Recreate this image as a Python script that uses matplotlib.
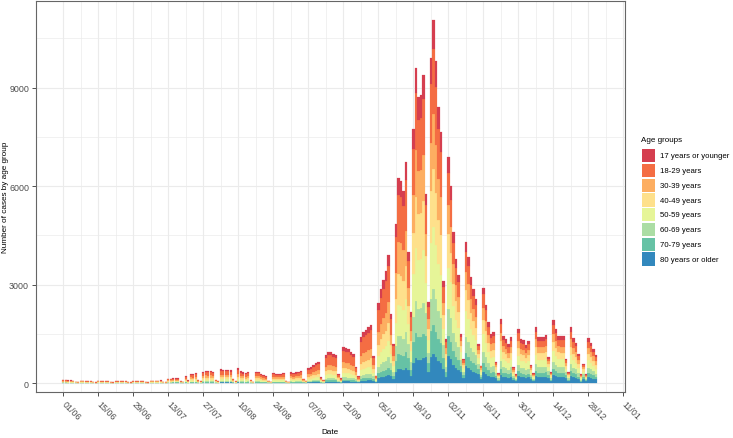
import datetime as dt
import numpy as np
import matplotlib
matplotlib.use('Agg')
import matplotlib.pyplot as plt
import matplotlib.dates as mdates
from matplotlib.patches import Rectangle

plt.rcParams['font.family'] = ['Liberation Sans', 'DejaVu Sans']

start = dt.date(2020, 6, 1)

# daily totals, one row per week (Mon..Sun)
week_totals = [
    [90, 85, 80, 80, 75, 35, 25],            # 01/06
    [75, 70, 65, 60, 60, 30, 20],            # 08/06
    [70, 65, 60, 55, 55, 25, 20],            # 15/06
    [65, 60, 60, 55, 55, 25, 20],            # 22/06
    [65, 60, 60, 55, 55, 25, 20],            # 29/06
    [70, 70, 75, 75, 80, 30, 25],            # 06/07
    [120, 130, 140, 145, 150, 60, 40],       # 13/07
    [220, 80, 275, 265, 300, 90, 60],        # 20/07
    [345, 375, 365, 375, 345, 100, 60],      # 27/07
    [420, 410, 405, 400, 390, 120, 60],      # 03/08
    [447, 355, 325, 305, 345, 100, 40],      # 10/08
    [345, 345, 275, 245, 200, 70, 40],       # 17/08
    [305, 280, 280, 280, 305, 70, 40],       # 24/08
    [325, 305, 325, 345, 375, 120, 70],      # 31/08
    [447, 475, 548, 600, 650, 170, 100],     # 07/09
    [850, 935, 955, 885, 850, 275, 140],     # 14/09
    [1085, 1055, 1035, 955, 885, 500, 200],  # 21/09
    [1400, 1550, 1620, 1700, 1780, 830, 220],   # 28/09
    [2450, 2850, 3150, 3400, 3900, 2100, 1200], # 05/10
    [4840, 6240, 6160, 5850, 6720, 3980, 2150], # 12/10
    [7740, 9590, 8710, 8760, 9390, 5760, 2460], # 19/10
    [9890, 11070, 9800, 8400, 7640, 3100, 1340],# 26/10
    [6870, 6010, 4590, 3775, 3300, 1490, 730],  # 02/11
    [4290, 3830, 3220, 2860, 2560, 1190, 530],  # 09/11
    [2900, 2380, 1850, 1490, 1540, 630, 300],   # 16/11
    [1960, 1440, 1340, 1190, 1390, 480, 275],   # 23/11
    [1640, 1340, 1300, 1170, 1290, 540, 290],   # 30/11
    [1700, 1400, 1400, 1400, 1460, 790, 330],   # 07/12
    [1920, 1640, 1430, 1420, 1420, 730, 330],   # 14/12
    [1700, 1360, 1220, 880, 275, 580, 275],     # 21/12
    [1370, 1220, 1040, 850],                    # 28/12
]

age_groups = ['17 years or younger', '18-29 years', '30-39 years', '40-49 years',
              '50-59 years', '60-69 years', '70-79 years', '80 years or older']
colors = ['#D53E4F', '#F46D43', '#FDAE61', '#FEE08B',
          '#E6F598', '#ABDDA4', '#66C2A5', '#3288BD']

# age mix per period (same order as age_groups)
shares_weekday = [
    [0.10, 0.24, 0.17, 0.16, 0.14, 0.08, 0.05, 0.06],
    [0.11, 0.28, 0.18, 0.15, 0.13, 0.07, 0.04, 0.04],
    [0.10, 0.31, 0.17, 0.14, 0.12, 0.07, 0.045, 0.045],
    [0.09, 0.28, 0.16, 0.14, 0.13, 0.08, 0.06, 0.06],
    [0.08, 0.23, 0.16, 0.15, 0.15, 0.09, 0.07, 0.07],
    [0.08, 0.18, 0.15, 0.16, 0.17, 0.10, 0.08, 0.08],
    [0.07, 0.14, 0.13, 0.15, 0.18, 0.12, 0.09, 0.12],
    [0.08, 0.14, 0.13, 0.14, 0.17, 0.12, 0.09, 0.13],
]
shares_weekend = [
    [0.08, 0.20, 0.14, 0.14, 0.14, 0.10, 0.08, 0.12],
    [0.09, 0.25, 0.16, 0.14, 0.13, 0.09, 0.06, 0.08],
    [0.08, 0.27, 0.15, 0.13, 0.13, 0.09, 0.07, 0.08],
    [0.07, 0.24, 0.14, 0.13, 0.13, 0.10, 0.09, 0.10],
    [0.07, 0.20, 0.14, 0.14, 0.15, 0.11, 0.09, 0.10],
    [0.06, 0.15, 0.12, 0.14, 0.16, 0.12, 0.11, 0.14],
    [0.05, 0.10, 0.10, 0.12, 0.15, 0.13, 0.13, 0.22],
    [0.06, 0.11, 0.11, 0.12, 0.15, 0.13, 0.12, 0.20],
]
week_phase = [0, 0, 0, 0, 0, 0, 0, 1, 1, 1, 1, 1, 1, 1, 2, 2, 2, 2, 3, 4,
              5, 5, 6, 6, 6, 7, 7, 7, 7, 7, 7]

# build per-day counts by age group
dates, counts = [], []
for w, row in enumerate(week_totals):
    for k, tot in enumerate(row):
        sh = shares_weekend[week_phase[w]] if k >= 5 else shares_weekday[week_phase[w]]
        sh = np.array(sh) / np.sum(sh)
        dates.append(start + dt.timedelta(days=7 * w + k))
        counts.append(tot * sh)
counts = np.array(counts)
x = mdates.date2num(dates)

W, H = 733, 439
fig = plt.figure(figsize=(W / 100, H / 100), dpi=100)
ax = fig.add_axes([36 / W, 1 - 393 / H, (625 - 36) / W, (393 - 2) / H])

bottom = np.zeros(len(x))
for i in range(len(age_groups) - 1, -1, -1):
    ax.bar(x, counts[:, i], width=1.0, bottom=bottom, color=colors[i],
           edgecolor=colors[i], linewidth=0.15, zorder=2)
    bottom += counts[:, i]

x0 = mdates.date2num(start)
ax.set_xlim(x0 - 10.9, x0 + 224.7)
ax.set_ylim(-274, 11636)

ticks = [x0 + 14 * i for i in range(17)]
ax.set_xticks(ticks)
ax.set_xticklabels([mdates.num2date(t).strftime('%d/%m') for t in ticks],
                   rotation=-45, ha='left', va='center', rotation_mode='anchor',
                   fontsize=6.4, color='#4D4D4D')
ax.set_xticks([x0 + 7 + 14 * i for i in range(16)], minor=True)
ax.set_yticks([0, 3000, 6000, 9000])
ax.set_yticklabels(['0', '3000', '6000', '9000'], fontsize=6.4, color='#4D4D4D')
ax.set_yticks([1500, 4500, 7500, 10500], minor=True)

ax.grid(which='major', color='#EBEBEB', linewidth=0.8, zorder=0)
ax.grid(which='minor', color='#EBEBEB', linewidth=0.5, zorder=0)
ax.set_axisbelow(True)
ax.tick_params(which='major', length=3, width=0.6, color='#333333', pad=2)
ax.tick_params(which='minor', length=0)
ax.tick_params(axis='x', pad=4.5)
for s in ax.spines.values():
    s.set_color('#666666')
    s.set_linewidth(0.8)

ax.set_xlabel('Date', fontsize=5.9)
ax.set_ylabel('Number of cases by age group', fontsize=5.9)
ax.xaxis.set_label_coords((330 - 36) / (625 - 36), -(429 - 393) / (393 - 2))
ax.yaxis.set_label_coords(-(36 - 9.3) / (625 - 36), 0.5)

# legend drawn at fixed positions
fig.text(641 / W, 1 - 141 / H, 'Age groups', fontsize=5.8, ha='left', va='center')
for i, (lab, c) in enumerate(zip(age_groups, colors)):
    ytop = 150 + i * 14.76
    fig.add_artist(Rectangle((641.7 / W, 1 - (ytop + 13.3) / H), 13.3 / W, 13.3 / H,
                             transform=fig.transFigure, facecolor=c, edgecolor='none'))
    fig.text(660 / W, 1 - (ytop + 6.9) / H, lab, fontsize=5.6, ha='left', va='center')

fig.savefig('out.png', dpi=100)
